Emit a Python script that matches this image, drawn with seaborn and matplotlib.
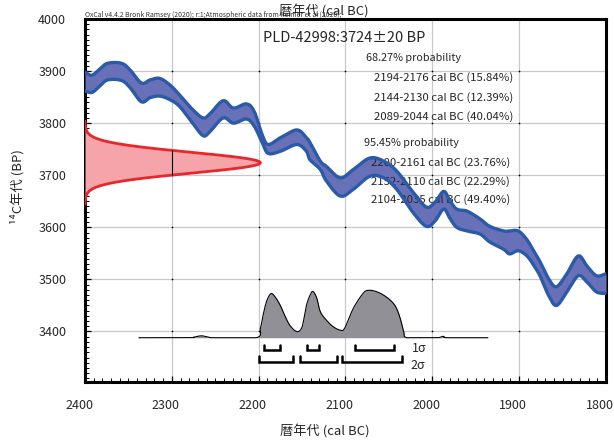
import numpy as np
import pandas as pd
import matplotlib
matplotlib.use("Agg")
import matplotlib.pyplot as plt
import matplotlib.transforms as mtransforms
from matplotlib.ticker import MultipleLocator
import seaborn as sns

sns.set_style("white")
plt.rcParams["font.family"] = ["Noto Sans CJK JP", "DejaVu Sans"]

# ---- measurement ----
sample_id = "PLD-42998"
c14_age = 3724
c14_err = 20

# ---- IntCal20 calibration band (cal BC, 1-sigma upper / lower, BP) ----
cal_year = [2400, 2392, 2383, 2374, 2358, 2348, 2335, 2325, 2314, 2302,
            2291, 2276, 2264, 2256, 2241, 2229, 2214, 2205, 2196, 2189,
            2175, 2156, 2145, 2141, 2129, 2122, 2106, 2091, 2072, 2056,
            2041, 2022, 2007, 1997, 1987, 1980, 1972, 1960, 1945, 1934,
            1918, 1911, 1901, 1891, 1882, 1876, 1866, 1857, 1845, 1832,
            1822, 1811, 1800]
curve_upper = [3898, 3892, 3904, 3915, 3915, 3902, 3877, 3883, 3886, 3873,
               3854, 3826, 3810, 3818, 3843, 3829, 3837, 3822, 3778, 3759,
               3772, 3787, 3772, 3763, 3727, 3717, 3695, 3711, 3733, 3727,
               3708, 3667, 3639, 3648, 3669, 3652, 3635, 3631, 3616, 3602,
               3593, 3593, 3593, 3576, 3551, 3534, 3501, 3486, 3511, 3545,
               3526, 3507, 3511]
curve_lower = [3862, 3859, 3871, 3883, 3882, 3868, 3841, 3849, 3852, 3845,
               3832, 3800, 3776, 3784, 3810, 3800, 3808, 3794, 3763, 3742,
               3746, 3759, 3746, 3730, 3711, 3689, 3660, 3673, 3698, 3695,
               3673, 3628, 3602, 3612, 3635, 3618, 3600, 3593, 3587, 3572,
               3558, 3549, 3555, 3545, 3524, 3507, 3469, 3450, 3476, 3507,
               3495, 3476, 3473]

# ---- calibrated probability (relative) ----
post_year = [2338, 2280, 2275, 2266, 2257, 2250, 2203, 2198, 2195, 2191,
             2186, 2181, 2175, 2170, 2164, 2156, 2150, 2145, 2140, 2137,
             2133, 2129, 2122, 2114, 2106, 2101, 2091, 2080, 2074, 2064,
             2053, 2043, 2037, 2033, 2029, 2000, 1993, 1987, 1982, 1936]
post_prob = [0, 0, 0.01, 0.04, 0.01, 0, 0, 0.2, 0.47, 0.76,
             0.93, 0.86, 0.68, 0.47, 0.26, 0.13, 0.23, 0.68, 0.93, 0.97,
             0.83, 0.55, 0.37, 0.23, 0.16, 0.2, 0.62, 0.93, 1.0, 0.97,
             0.86, 0.68, 0.41, 0.13, 0, 0, 0, 0.03, 0, 0]

# ---- highest probability ranges (from, to, percent) ----
range_68 = [(2194, 2176, 15.84), (2144, 2130, 12.39), (2089, 2044, 40.04)]
range_95 = [(2200, 2161, 23.76), (2152, 2110, 22.29), (2104, 2035, 49.40)]


def catmull_rom(x, y, n=10):
    """Smooth polyline through the given points (for drawing only)."""
    P = np.column_stack([np.asarray(x, float), np.asarray(y, float)])
    P = np.vstack([P[0], P, P[-1]])
    t = np.linspace(0, 1, n, endpoint=False)[:, None]
    parts = []
    for i in range(1, len(P) - 2):
        p0, p1, p2, p3 = P[i - 1], P[i], P[i + 1], P[i + 2]
        parts.append(0.5 * (2 * p1 + (p2 - p0) * t
                            + (2 * p0 - 5 * p1 + 4 * p2 - p3) * t ** 2
                            + (3 * p1 - p0 - 3 * p2 + p3) * t ** 3))
    parts.append(P[-2][None])
    S = np.vstack(parts)
    return S[:, 0], S[:, 1]


xs, up_s = catmull_rom(cal_year, curve_upper)
_, lo_s = catmull_rom(cal_year, curve_lower)
curve = pd.DataFrame({"year": xs, "upper": up_s, "lower": lo_s})

base = 3388
scale = 91
px_, pp_ = catmull_rom(post_year, post_prob)
post = pd.DataFrame({"year": px_, "y": base + scale * np.clip(pp_, 0, None)})

W, H = 614, 443
fig = plt.figure(figsize=(W / 100, H / 100), dpi=100)
ax = fig.add_axes([85 / W, 1 - 382 / H, 521 / W, 363 / H])
ax.set_xlim(2400, 1800)
ax.set_ylim(3303, 4000)

ax.xaxis.set_major_locator(MultipleLocator(100))
ax.xaxis.set_minor_locator(MultipleLocator(10))
ax.yaxis.set_major_locator(MultipleLocator(100))
ax.yaxis.set_minor_locator(MultipleLocator(10))
ax.grid(True, which="major", color="#c8c8c8", lw=0.9)
ax.set_axisbelow(True)
ax.tick_params(which="both", direction="in", bottom=True, left=True,
               top=False, right=False, color="black")
ax.tick_params(which="major", length=4.5, width=0.9, pad=12.5, labelsize=9)
ax.tick_params(axis="y", which="major", pad=13.5)
ax.tick_params(which="minor", length=2.6, width=0.7)
shift = mtransforms.ScaledTranslation(-6 / 100, 0, fig.dpi_scale_trans)
for lab in ax.get_xticklabels():
    lab.set_transform(lab.get_transform() + shift)
for s in ax.spines.values():
    s.set_linewidth(2.2)
    s.set_color("black")

# small markers on interior grid crossings
gx, gy = np.meshgrid(np.arange(1900, 2400, 100), np.arange(3400, 4000, 100))
ax.scatter(gx.ravel(), gy.ravel(), s=1.5, color="black", zorder=2, linewidths=0)

# calibration curve band
band_fill = "#6870b8"
band_edge = "#2a5aa8"
ax.fill_between(curve["year"], curve["lower"], curve["upper"],
                color=band_fill, lw=0, zorder=3)
sns.lineplot(data=curve, x="year", y="upper", sort=False, color=band_edge,
             lw=2.4, ax=ax, zorder=4)
sns.lineplot(data=curve, x="year", y="lower", sort=False, color=band_edge,
             lw=2.4, ax=ax, zorder=4)

# radiocarbon measurement as a normal distribution on the age axis
peak_width = 202
bp = np.linspace(c14_age - 4 * c14_err, c14_age + 4 * c14_err, 400)
w = peak_width * np.exp(-0.5 * ((bp - c14_age) / c14_err) ** 2)
ax.fill_betweenx(bp, 2400, 2400 - w, color="#f5a4a9", lw=0, zorder=5)
ax.plot(2400 - w, bp, color="#e8262b", lw=2.0, zorder=6)
dz = c14_err * np.sqrt(2 * np.log(peak_width / 100))
ax.vlines(2300, c14_age - dz, c14_age + dz, color="black", lw=0.8, zorder=6)

# calibrated distribution
ax.fill_between(post["year"], base, post["y"], color="#909096", lw=0, zorder=3)
sns.lineplot(data=post, x="year", y="y", sort=False, color="black", lw=0.8,
             ax=ax, zorder=4)


# range brackets
def bracket(ranges, y, h=11):
    for a, b, _ in ranges:
        ax.plot([a, a, b, b], [y + h, y, y, y + h], color="black", lw=1.8,
                solid_joinstyle="miter", zorder=4)


bracket(range_68, 3364)
bracket(range_95, 3342)
ax.text(2024, 3367, "1σ", fontsize=9, style="italic", va="center", ha="left")
ax.text(2025, 3335, "2σ", fontsize=9, style="italic", va="center", ha="left")

# annotation block
ax.text(2195, 3963, f"{sample_id}:{c14_age}±{c14_err} BP", fontsize=10.5,
        va="center", ha="left")
ax.text(2076, 3925, "68.27% probability", fontsize=7.8, va="center", ha="left")
for i, (a, b, p) in enumerate(range_68):
    ax.text(2067, 3887 - 37.5 * i, f"{a}-{b} cal BC ({p:.2f}%)", fontsize=8.2,
            va="center", ha="left")
ax.text(2079, 3761, "95.45% probability", fontsize=7.8, va="center", ha="left")
for i, (a, b, p) in enumerate(range_95):
    ax.text(2071, 3724 - 35.5 * i, f"{a}-{b} cal BC ({p:.2f}%)", fontsize=8.2,
            va="center", ha="left")

ax.set_xlabel("")
ax.set_ylabel("")

# header / axis titles
fig.text(85 / W, 1 - 15 / H,
         "OxCal v4.4.2 Bronk Ramsey (2020); r:1;Atmospheric data from Reimer et al (2020);",
         fontsize=4.9, color="#333333", va="center", ha="left")
fig.text(324 / W, 1 - 11 / H, "暦年代 (cal BC)", fontsize=9.5, ha="center", va="center")
fig.text(325 / W, 1 - 432 / H, "暦年代 (cal BC)", fontsize=9.5, ha="center", va="center")
fig.text(17 / W, 1 - 187 / H, "¹⁴C年代 (BP)", fontsize=9.5, rotation=90,
         ha="center", va="center")

fig.savefig("out.png", dpi=100)
